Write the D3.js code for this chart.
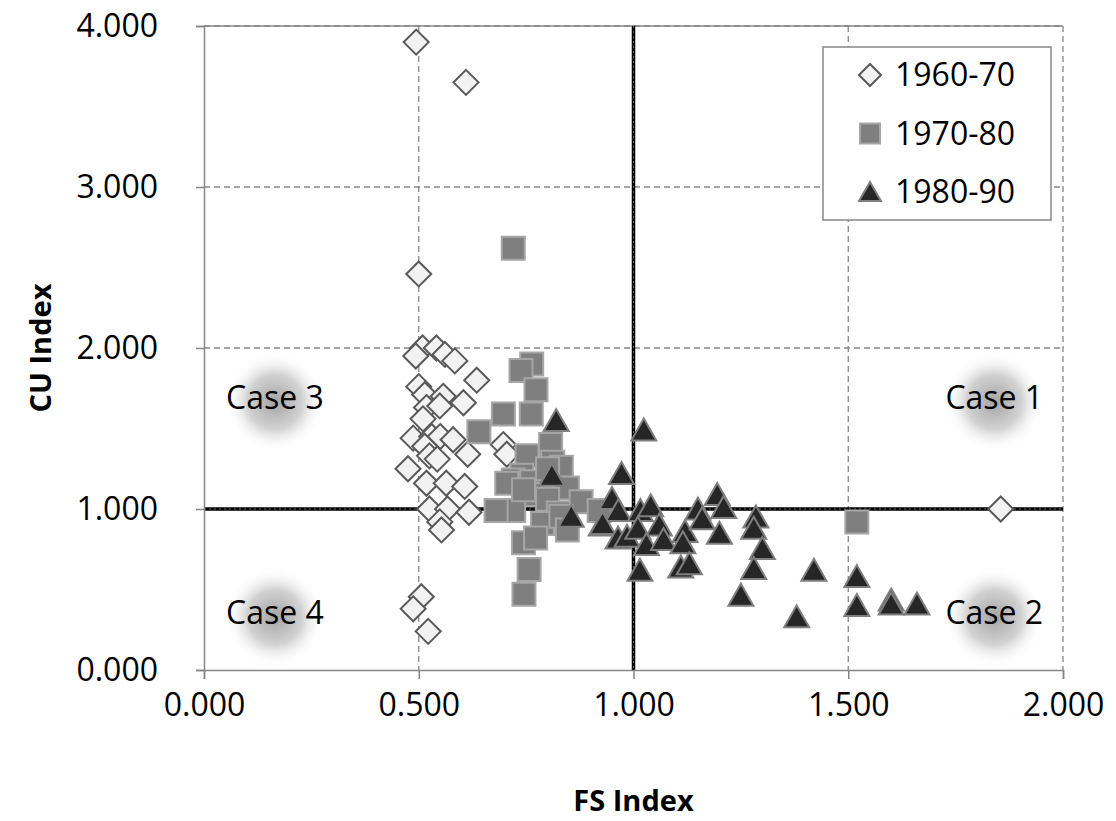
<!DOCTYPE html>
<html lang="en">
<head>
<meta charset="UTF-8">
<title>FS Index vs CU Index</title>
<script src="https://d3js.org/d3.v7.min.js"></script>
<style>
    body { margin: 0; background: #fff; }
    svg text { font-family: "Open Sans", "Noto Sans", sans-serif; }
    .axis path, .axis line { stroke: #868686; stroke-width: 1.5px; }
    .axis text { font-size: 32px; fill: #000; }
    .grid line { stroke: #868686; stroke-width: 1.3px; stroke-dasharray: 6 4; }
</style>
</head>
<body>
<svg></svg>
<script>
    // tick values
    var xTicks = [0, 0.5, 1, 1.5, 2];
    var yTicks = [0, 1, 2, 3, 4];

    // series names
    var seriesNames = ["1960-70", "1970-80", "1980-90"];

    // 1960-70 (diamonds)
    var x6070 = [0.494, 0.61, 0.50, 0.509, 0.493, 0.541, 0.561, 0.584, 0.635, 0.50, 0.514, 0.557, 0.604,
        0.518, 0.549, 0.51, 0.487, 0.53, 0.55, 0.58, 0.514, 0.525, 0.543, 0.614, 0.697, 0.705, 0.475,
        0.518, 0.564, 0.607, 0.525, 0.567, 0.617, 0.549, 0.553, 0.506, 0.487, 0.522, 1.855];
    var y6070 = [3.90, 3.65, 2.46, 2.00, 1.95, 2.00, 1.96, 1.92, 1.80, 1.76, 1.71, 1.70, 1.66,
        1.63, 1.64, 1.56, 1.44, 1.45, 1.45, 1.43, 1.39, 1.33, 1.31, 1.34, 1.40, 1.34, 1.25,
        1.16, 1.16, 1.14, 1.00, 1.00, 0.98, 0.92, 0.87, 0.455, 0.38, 0.24, 1.00];

    // 1970-80 (squares)
    var x7080 = [0.72, 0.763, 0.738, 0.773, 0.697, 0.762, 0.64, 0.807, 0.752, 0.812, 0.832, 0.74, 0.72,
        0.763, 0.705, 0.846, 0.80, 0.757, 0.80, 0.878, 0.721, 0.68, 0.92, 0.825, 0.788, 0.831, 0.744,
        0.772, 0.846, 0.757, 0.745, 0.744, 1.52];
    var y7080 = [2.62, 1.90, 1.86, 1.74, 1.59, 1.59, 1.48, 1.40, 1.33, 1.29, 1.26, 1.21, 1.18,
        1.17, 1.16, 1.13, 1.25, 1.09, 1.06, 1.045, 0.99, 0.99, 0.99, 0.975, 0.91, 0.955, 0.79,
        0.82, 0.87, 0.625, 0.47, 1.12, 0.92];

    // 1980-90 (triangles)
    var x8090 = [0.82, 1.024, 0.81, 0.972, 0.95, 0.965, 0.855, 0.925, 0.928, 0.964, 0.985, 1.016, 1.04,
        1.01, 1.06, 1.03, 1.07, 1.015, 1.12, 1.115, 1.11, 1.13, 1.15, 1.16, 1.195, 1.21, 1.20,
        1.285, 1.28, 1.30, 1.28, 1.25, 1.42, 1.38, 1.52, 1.52, 1.60, 1.60, 1.66];
    var y8090 = [1.55, 1.49, 1.21, 1.22, 1.065, 0.99, 0.955, 0.90, 0.91, 0.82, 0.83, 0.99, 1.02,
        0.88, 0.90, 0.78, 0.81, 0.62, 0.86, 0.79, 0.64, 0.66, 1.00, 0.94, 1.09, 1.01, 0.85,
        0.95, 0.88, 0.755, 0.63, 0.465, 0.62, 0.33, 0.58, 0.40, 0.435, 0.41, 0.41];

    // quadrant annotations (in data units)
    var caseNames = ["Case 1", "Case 2", "Case 3", "Case 4"];
    var caseX = [1.84, 1.84, 0.165, 0.165];
    var caseY = [1.69, 0.354, 1.69, 0.354];

    var width = 1116, height = 821;
    var margin = {left: 204, right: 53, top: 26, bottom: 151};
    var w = width - margin.left - margin.right;
    var h = height - margin.top - margin.bottom;

    var svg = d3.select("svg").attr("width", width).attr("height", height);

    var defs = svg.append("defs");
    var grad = defs.append("radialGradient").attr("id", "blob");
    grad.append("stop").attr("offset", "0%").attr("stop-color", "#a4a4a4");
    grad.append("stop").attr("offset", "55%").attr("stop-color", "#d2d2d2");
    grad.append("stop").attr("offset", "100%").attr("stop-color", "#ffffff").attr("stop-opacity", 0);

    var g = svg.append("g").attr("transform", "translate(" + margin.left + "," + margin.top + ")");

    var xScale = d3.scaleLinear().domain([0, 2]).range([0, w]);
    var yScale = d3.scaleLinear().domain([0, 4]).range([h, 0]);

    // soft blobs behind case labels
    var cases = caseNames.map(function (n, i) { return {name: n, x: caseX[i], y: caseY[i]}; });
    g.selectAll(".blob").data(cases).enter().append("circle")
        .attr("cx", function (d) { return xScale(d.x); })
        .attr("cy", function (d) { return yScale(d.y) + 4; })
        .attr("r", 50)
        .style("fill", "url(#blob)");

    // dashed grid
    g.append("g").classed("grid", true).selectAll("line")
        .data(xTicks.slice(1)).enter().append("line")
        .attr("x1", function (d) { return xScale(d); })
        .attr("x2", function (d) { return xScale(d); })
        .attr("y1", 0).attr("y2", h);
    g.append("g").classed("grid", true).selectAll("line")
        .data(yTicks.slice(1)).enter().append("line")
        .attr("x1", 0).attr("x2", w)
        .attr("y1", function (d) { return yScale(d); })
        .attr("y2", function (d) { return yScale(d); });

    // top border
    g.append("line").attr("x1", 0).attr("x2", w).attr("y1", 0).attr("y2", 0)
        .style("stroke", "#868686").style("stroke-width", 1.5);

    // black reference lines at 1.0
    g.append("line").attr("x1", xScale(1)).attr("x2", xScale(1)).attr("y1", 0).attr("y2", h)
        .style("stroke", "#000").style("stroke-width", 3.5);
    g.append("line").attr("x1", 0).attr("x2", w).attr("y1", yScale(1)).attr("y2", yScale(1))
        .style("stroke", "#000").style("stroke-width", 3.5);
    g.append("line").attr("x1", xScale(1)).attr("x2", xScale(1)).attr("y1", 0).attr("y2", h)
        .style("stroke", "#666").style("stroke-width", 1).style("stroke-dasharray", "2 3");
    g.append("line").attr("x1", 0).attr("x2", w).attr("y1", yScale(1)).attr("y2", yScale(1))
        .style("stroke", "#666").style("stroke-width", 1).style("stroke-dasharray", "2 3");

    // axes
    var fmt = d3.format(".3f");
    g.append("g").classed("axis", true)
        .attr("transform", "translate(0," + h + ")")
        .call(d3.axisBottom(xScale).tickValues(xTicks).tickFormat(fmt).tickSize(9).tickPadding(14));
    g.append("g").classed("axis", true)
        .call(d3.axisLeft(yScale).tickValues(yTicks).tickFormat(fmt).tickSize(8).tickPadding(38));

    // case labels
    g.selectAll(".case").data(cases).enter().append("text")
        .attr("x", function (d) { return xScale(d.x); })
        .attr("y", function (d) { return yScale(d.y); })
        .attr("dy", "0.35em")
        .attr("text-anchor", "middle")
        .style("font-size", "32px")
        .text(function (d) { return d.name; });

    // marker shapes
    var sz = 23;
    function diamond(s) { var r = s / 2 + 1; return "M0," + (-r) + "L" + r + ",0L0," + r + "L" + (-r) + ",0Z"; }
    function square(s) { var r = s / 2; return "M" + (-r) + "," + (-r) + "h" + s + "v" + s + "h" + (-s) + "Z"; }
    function triangle(s) { var r = s / 2; return "M0," + (-r) + "L" + (r + 1) + "," + (r - 1) + "L" + (-r - 1) + "," + (r - 1) + "Z"; }

    var styles = [
        {path: diamond, fill: "#f2f2f2", stroke: "#595959"},
        {path: square, fill: "#7f7f7f", stroke: "#a6a6a6"},
        {path: triangle, fill: "#262626", stroke: "#7f7f7f"}
    ];
    var xs = [x6070, x7080, x8090], ys = [y6070, y7080, y8090];

    xs.forEach(function (xv, k) {
        var pts = xv.map(function (x, i) { return {x: x, y: ys[k][i]}; });
        g.append("g").selectAll("path").data(pts).enter().append("path")
            .attr("d", styles[k].path(sz))
            .attr("transform", function (d) { return "translate(" + xScale(d.x) + "," + yScale(d.y) + ")"; })
            .style("fill", styles[k].fill)
            .style("stroke", styles[k].stroke)
            .style("stroke-width", 2);
    });

    // axis titles
    svg.append("text")
        .attr("x", margin.left + xScale(1)).attr("y", 811)
        .attr("text-anchor", "middle")
        .style("font-size", "29px").style("font-weight", "bold")
        .text("FS Index");
    svg.append("text")
        .attr("transform", "translate(51," + (margin.top + yScale(2)) + ") rotate(-90)")
        .attr("text-anchor", "middle")
        .style("font-size", "29px").style("font-weight", "bold")
        .text("CU Index");

    // legend
    var leg = svg.append("g").attr("transform", "translate(823,47)");
    leg.append("rect").attr("width", 228).attr("height", 173)
        .style("fill", "#fff").style("stroke", "#868686").style("stroke-width", 1.5);
    seriesNames.forEach(function (name, k) {
        var yy = 28 + k * 58.5;
        leg.append("path")
            .attr("d", styles[k].path(20))
            .attr("transform", "translate(47," + yy + ")")
            .style("fill", styles[k].fill)
            .style("stroke", styles[k].stroke)
            .style("stroke-width", 2);
        leg.append("text")
            .attr("x", 72).attr("y", yy).attr("dy", "0.35em")
            .style("font-size", "32px")
            .text(name);
    });
</script>
</body>
</html>
